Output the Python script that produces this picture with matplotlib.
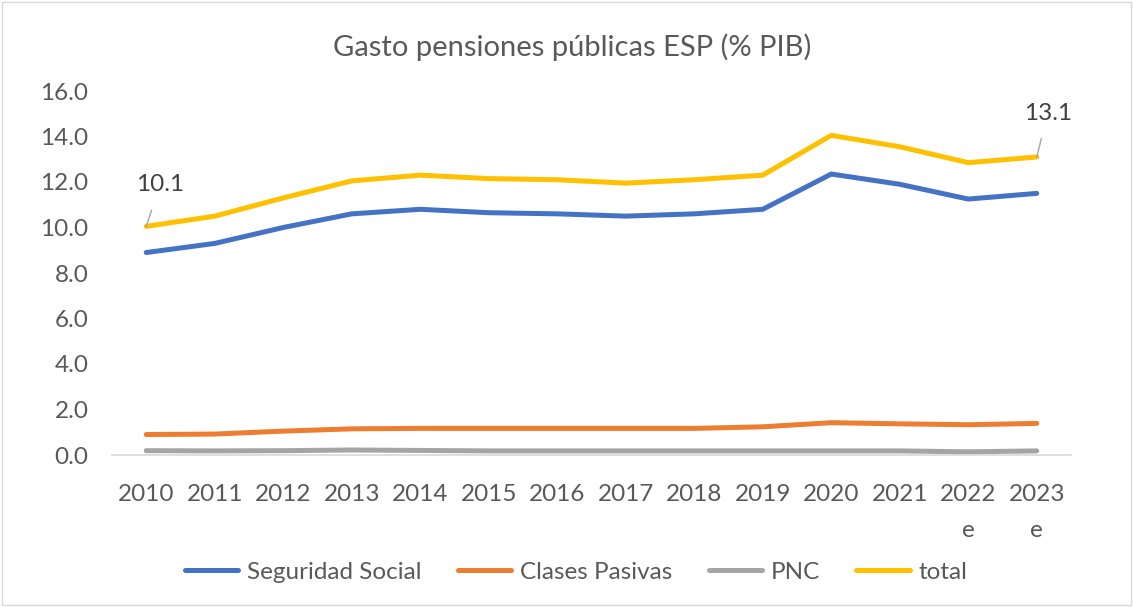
import matplotlib.pyplot as plt
from matplotlib.patches import Rectangle

years = ["2010", "2011", "2012", "2013", "2014", "2015", "2016", "2017",
         "2018", "2019", "2020", "2021", "2022\ne", "2023\ne"]
seg_social = [8.9, 9.3, 10.0, 10.6, 10.8, 10.65, 10.6, 10.5, 10.6, 10.8, 12.35, 11.9, 11.25, 11.5]
clases_pasivas = [0.9, 0.92, 1.05, 1.15, 1.17, 1.17, 1.17, 1.17, 1.17, 1.24, 1.42, 1.37, 1.33, 1.39]
pnc = [0.19, 0.18, 0.19, 0.22, 0.2, 0.18, 0.18, 0.18, 0.18, 0.18, 0.18, 0.18, 0.14, 0.18]
total = [10.05, 10.5, 11.3, 12.05, 12.3, 12.15, 12.1, 11.95, 12.1, 12.3, 14.05, 13.55, 12.85, 13.1]

plt.rcParams['font.family'] = ['Lato', 'DejaVu Sans']
txt = "#595959"

fig = plt.figure(figsize=(11.33, 6.07), dpi=100)
ax = fig.add_axes([112 / 1133, 1 - 455 / 607, (1071 - 112) / 1133, (455 - 91) / 607])

x = range(len(years))
ax.plot(x, seg_social, color="#4472C4", lw=3.6, label="Seguridad Social", solid_capstyle="round")
ax.plot(x, clases_pasivas, color="#ED7D31", lw=3.6, label="Clases Pasivas", solid_capstyle="round")
ax.plot(x, pnc, color="#A5A5A5", lw=3.6, label="PNC", solid_capstyle="round")
ax.plot(x, total, color="#FFC000", lw=3.6, label="total", solid_capstyle="round")

ax.set_xlim(-0.5, len(years) - 0.5)
ax.set_ylim(0, 16)
ax.set_yticks(range(0, 17, 2))
ax.set_yticklabels([f"{v:.1f}" for v in range(0, 17, 2)])
ax.set_xticks(list(x))
ax.set_xticklabels(years, linespacing=1.85)
ax.tick_params(axis="both", length=0, labelsize=17.5, colors=txt)
ax.tick_params(axis="x", pad=21)
ax.tick_params(axis="y", pad=17)
for s in ["top", "right", "left"]:
    ax.spines[s].set_visible(False)
ax.spines["bottom"].set_color("#D9D9D9")
ax.spines["bottom"].set_linewidth(1.2)

# data labels with leader lines
ax.annotate(f"{total[0]:.1f}", xy=(0, total[0]), xytext=(0.2, 11.87), fontsize=17.5,
            color="#404040", ha="center", va="center",
            arrowprops=dict(arrowstyle="-", color="#A5A5A5", lw=1, shrinkA=9, shrinkB=0))
ax.annotate(f"{total[-1]:.1f}", xy=(13, total[-1]), xytext=(13.16, 15.03), fontsize=17.5,
            color="#404040", ha="center", va="center",
            arrowprops=dict(arrowstyle="-", color="#A5A5A5", lw=1, shrinkA=9, shrinkB=0))

fig.suptitle("Gasto pensiones públicas ESP (% PIB)", x=572 / 1133, y=1 - 47 / 607, va="center",
             fontsize=21, color=txt)

fig.legend(loc="center", bbox_to_anchor=(576 / 1133, 1 - 572 / 607), ncol=4, frameon=False,
           fontsize=17.5, labelcolor=txt, handlelength=2.2, handletextpad=0.35, columnspacing=1.5)

fig.patches.append(Rectangle((0.002, 0.003), 0.996, 0.994, transform=fig.transFigure,
                             fill=False, edgecolor="#D9D9D9", lw=1))

fig.savefig("out.png", dpi=100)
